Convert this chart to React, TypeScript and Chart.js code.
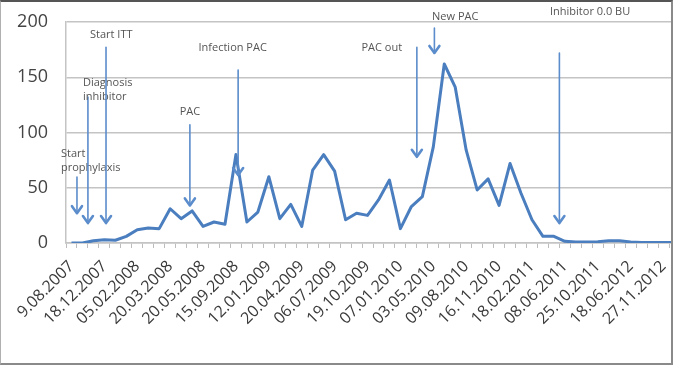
import React, { useEffect, useRef } from "react";
import { Chart, registerables } from "chart.js";

Chart.register(...registerables);

// Tick labels shown on every third category
const tickLabels = [
  "9.08.2007", "18.12.2007", "05.02.2008", "20.03.2008", "20.05.2008",
  "15.09.2008", "12.01.2009", "20.04.2009", "06.07.2009", "19.10.2009",
  "07.01.2010", "03.05.2010", "09.08.2010", "16.11.2010", "18.02.2011",
  "08.06.2011", "25.10.2011", "18.06.2012", "27.11.2012",
];

// Inhibitor titre per measurement (56 measurements)
const inhibitorValues = [
  0, 0, 2, 3, 2.5, 6, 12, 13.5, 13, 31,
  22, 29, 15, 19, 17, 80, 19, 28, 60, 22,
  35, 15, 66, 80, 65, 21, 27, 25, 39, 57,
  13, 33, 42, 87, 162, 141, 84, 48, 58, 34,
  72, 45, 21, 6, 6, 1.5, 1, 1, 1.2, 2,
  2, 1, 0.5, 0.5, 0.5, 0.5,
];

const yTicks = [0, 50, 100, 150, 200];

const categories = inhibitorValues.map((_, i) =>
  i % 3 === 0 && tickLabels[i / 3] !== undefined ? tickLabels[i / 3] : ""
);

// Event annotations: text lines, text anchor (category index, value), arrow x and from/to values
const annotationTexts = [
  ["Start", "prophylaxis"],
  ["Diagnosis", "inhibitor"],
  ["Start ITT"],
  ["PAC"],
  ["Infection PAC"],
  ["PAC out"],
  ["New PAC"],
  ["Inhibitor 0.0 BU"],
];
const annotationTextX = [-0.96, 1.05, 1.69, 10.8, 14.7, 28.3, 35.0, 47.3];
const annotationTextY = [80.5, 145, 188, 118.5, 176.5, 177, 204.5, 209];
const annotationAlign = ["left", "left", "left", "center", "center", "center", "center", "center"];
const arrowX = [0.5, 1.5, 3.15, 10.8, 15.2, 31.5, 33.1, 44.5];
const arrowFrom = [59.7, 132, 177, 107, 156.6, 177, 194.6, 172];
const arrowTo = [27, 18, 18, 34, 61.5, 78, 172, 18];

const LINE_COLOR = "#4a7ebf";
const ARROW_COLOR = "#5b8ccb";
const GRID_COLOR = "#c4c4c4";
const FONT = "'Open Sans', 'Noto Sans', sans-serif";

const annotationPlugin = {
  id: "eventArrows",
  afterDatasetsDraw(chart: any) {
    const { ctx } = chart;
    const xs = chart.scales.x;
    const ys = chart.scales.y;
    ctx.save();
    annotationTexts.forEach((lines, i) => {
      const ax = xs.getPixelForValue(arrowX[i]);
      const y1 = ys.getPixelForValue(arrowFrom[i]);
      const y2 = ys.getPixelForValue(arrowTo[i]);
      ctx.strokeStyle = ARROW_COLOR;
      ctx.lineWidth = 1.6;
      ctx.lineCap = "round";
      ctx.lineJoin = "round";
      ctx.beginPath();
      ctx.moveTo(ax, y1);
      ctx.lineTo(ax, y2);
      ctx.stroke();
      ctx.lineWidth = 2.6;
      ctx.beginPath();
      ctx.moveTo(ax - 5, y2 - 7);
      ctx.lineTo(ax, y2);
      ctx.lineTo(ax + 5, y2 - 7);
      ctx.stroke();

      const tx = xs.getPixelForValue(annotationTextX[i]);
      const ty = ys.getPixelForValue(annotationTextY[i]);
      ctx.fillStyle = "#555555";
      ctx.font = `11px ${FONT}`;
      ctx.textAlign = annotationAlign[i] as CanvasTextAlign;
      ctx.textBaseline = "middle";
      lines.forEach((t, j) => ctx.fillText(t, tx, ty + j * 14));
    });
    ctx.restore();
  },
};

export default function App() {
  const canvasRef = useRef<HTMLCanvasElement>(null);

  useEffect(() => {
    if (!canvasRef.current) return;
    const chart = new Chart(canvasRef.current, {
      type: "line",
      data: {
        labels: categories,
        datasets: [
          {
            data: inhibitorValues,
            borderColor: LINE_COLOR,
            borderWidth: 3,
            pointRadius: 0,
            tension: 0,
            borderJoinStyle: "round",
            fill: false,
          },
        ],
      },
      options: {
        animation: false,
        responsive: false,
        devicePixelRatio: 1,
        layout: { padding: { top: 22, left: 0, right: 0, bottom: 0 } },
        plugins: {
          legend: { display: false },
          tooltip: { enabled: false },
          title: { display: false },
        },
        scales: {
          x: {
            type: "category",
            offset: true,
            grid: {
              display: true,
              offset: true,
              drawOnChartArea: false,
              drawTicks: true,
              tickLength: 5,
              color: "#bdbdbd",
              lineWidth: 1,
            },
            border: { display: true, color: GRID_COLOR, width: 1.5 },
            ticks: {
              autoSkip: false,
              maxRotation: 45,
              minRotation: 45,
              padding: 9,
              color: "#3a3a3a",
              font: { family: FONT, size: 16 },
            },
            afterFit: (scale: any) => {
              scale.height = 122;
              scale.paddingLeft = 0;
              scale.paddingRight = 0;
            },
          },
          y: {
            min: 0,
            max: 200,
            afterBuildTicks: (scale: any) => {
              scale.ticks = yTicks.map((v) => ({ value: v }));
            },
            grid: {
              color: GRID_COLOR,
              lineWidth: 1.5,
              drawTicks: false,
            },
            border: { display: true, color: GRID_COLOR, width: 1.5 },
            ticks: {
              padding: 18,
              color: "#444444",
              font: { family: FONT, size: 18 },
            },
            afterFit: (scale: any) => {
              scale.width = 66;
              scale.paddingTop = 0;
              scale.paddingBottom = 0;
            },
          },
        },
      },
      plugins: [annotationPlugin],
    });
    return () => chart.destroy();
  }, []);

  return (
    <div
      style={{
        position: "fixed",
        left: 0,
        top: 0,
        width: 673,
        height: 365,
        overflow: "hidden",
        background: "#ffffff",
      }}
    >
      <canvas ref={canvasRef} width={680} height={365} style={{ display: "block" }} />
      <div
        style={{
          position: "absolute",
          left: 0,
          top: 0,
          width: 673,
          height: 365,
          boxSizing: "border-box",
          borderTop: "2px solid #555555",
          borderRight: "2px solid #8a8a8a",
          borderBottom: "2px solid #8a8a8a",
          borderLeft: "1px solid #b0b0b0",
          pointerEvents: "none",
        }}
      />
    </div>
  );
}
